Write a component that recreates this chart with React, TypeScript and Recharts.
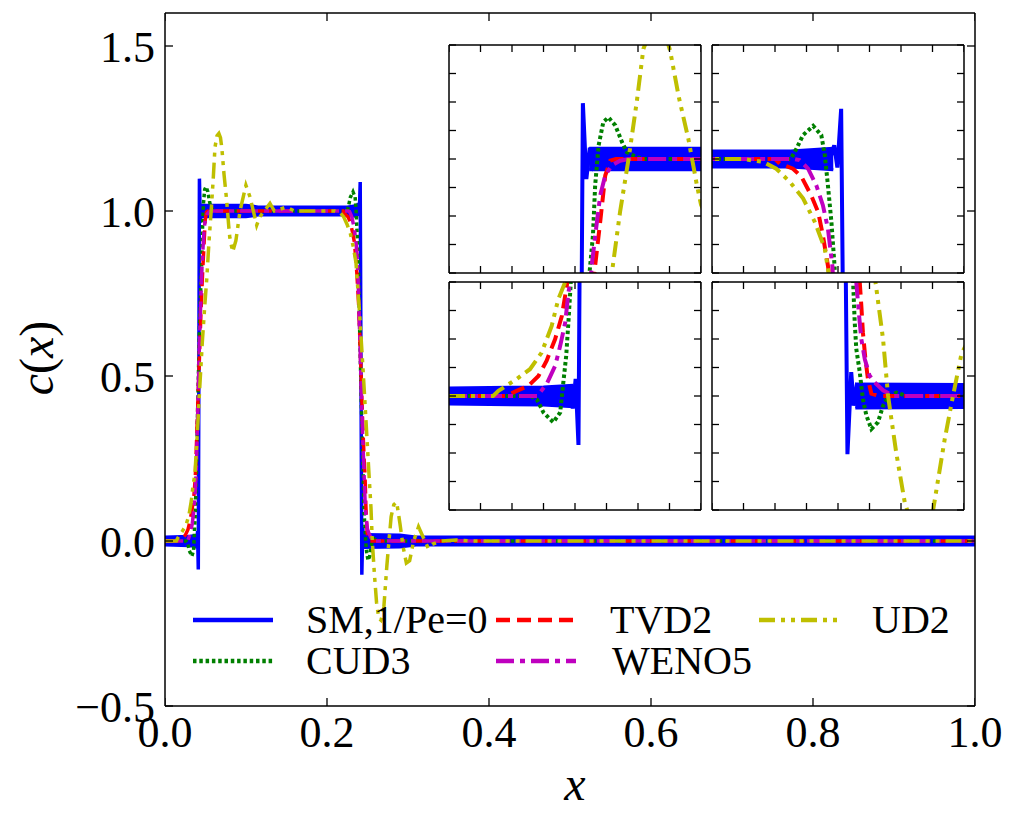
import React from 'react';
import { ComposedChart, Line, Area, Scatter, XAxis, YAxis } from 'recharts';

type Pt = [number, number];
type Band = [number, number, number];

const FONT = "'Liberation Serif', 'Times New Roman', serif";

const mainXTicks = [0, 0.2, 0.4, 0.6, 0.8, 1.0];
const mainYTicks = [-0.5, 0, 0.5, 1.0, 1.5];

const insetLeftXTicks = [0, 0.01, 0.02, 0.03, 0.04, 0.05, 0.06, 0.07, 0.08];
const insetRightXTicks = [0.2, 0.21, 0.22, 0.23, 0.24, 0.25, 0.26, 0.27, 0.28];
const insetTopYTicks = [0.8, 0.85, 0.9, 0.95, 1.0, 1.05, 1.1, 1.15, 1.2];
const insetBottomYTicks = [-0.2, -0.15, -0.1, -0.05, 0, 0.05, 0.1, 0.15, 0.2];

// SM, 1/Pe=0 : centre line with the spikes at the two jumps
const smLine: Pt[] = [
  [0, 0], [0.036, 0], [0.0383, 0.012], [0.0393, -0.022], [0.0402, 0.03], [0.0411, -0.086],
  [0.0425, 1.098], [0.0436, 0.965], [0.0447, 1.02], [0.0458, 0.988], [0.047, 1.0],
  [0.2375, 1.0], [0.2388, 1.024], [0.2398, 0.985], [0.241, 1.088], [0.243, -0.102],
  [0.2442, 0.042], [0.245, -0.017], [0.2458, 0.013], [0.247, 0], [1, 0],
];

// SM grid-scale oscillation envelope (low, high)
const smBandLeft: Band[] = [
  [0, -0.014, 0.014], [0.03, -0.016, 0.016], [0.0395, -0.019, 0.019],
];
const smBandTop: Band[] = [
  [0.0445, 0.981, 1.019], [0.1, 0.981, 1.019], [0.115, 0.986, 1.014],
  [0.225, 0.986, 1.014], [0.2385, 0.981, 1.019],
];
const smBandRight: Band[] = [
  [0.2455, -0.021, 0.021], [0.29, -0.02, 0.02], [0.31, -0.014, 0.014], [1, -0.014, 0.014],
];

const cud3: Pt[] = [
  [0, 0], [0.026, 0], [0.0279, -0.006], [0.03, -0.029], [0.0331, -0.046], [0.0353, -0.029],
  [0.0363, 0.024], [0.0372, 0.07], [0.0379, 0.129], [0.0386, 0.193], [0.0405, 0.42],
  [0.0425, 0.64], [0.0446, 0.8], [0.0457, 0.866], [0.0464, 0.954], [0.0475, 1.024],
  [0.049, 1.065], [0.0506, 1.073], [0.0528, 1.059], [0.0549, 1.03], [0.0565, 1.012],
  [0.0596, 1.003], [0.062, 1.0], [0.225, 1.0], [0.2268, 1.018], [0.2289, 1.042],
  [0.2321, 1.058], [0.2347, 1.042], [0.2358, 1.007], [0.2368, 0.954], [0.2379, 0.89],
  [0.2389, 0.813], [0.2405, 0.62], [0.2428, 0.38], [0.2448, 0.2], [0.2453, 0.13],
  [0.2458, 0.083], [0.2469, 0.042], [0.2479, -0.005], [0.249, -0.034], [0.2506, -0.058],
  [0.2527, -0.046], [0.2543, -0.017], [0.2559, -0.002], [0.2585, 0.006], [0.262, 0], [1, 0],
];

const tvd2: Pt[] = [
  [0, 0], [0.018, 0], [0.0215, 0.009], [0.0252, 0.018], [0.0284, 0.035], [0.031, 0.062],
  [0.0337, 0.1], [0.0358, 0.14], [0.0374, 0.193], [0.0395, 0.34], [0.042, 0.52],
  [0.0445, 0.7], [0.0464, 0.813], [0.048, 0.89], [0.0496, 0.971], [0.0512, 0.997],
  [0.053, 1.0], [0.22, 1.0], [0.2215, 0.992], [0.2257, 0.983], [0.2284, 0.969],
  [0.2315, 0.936], [0.2337, 0.907], [0.2352, 0.866], [0.2368, 0.813], [0.239, 0.72],
  [0.2415, 0.55], [0.244, 0.36], [0.2458, 0.25], [0.2469, 0.2], [0.2474, 0.159],
  [0.2479, 0.112], [0.2487, 0.065], [0.2495, 0.03], [0.2506, 0.004], [0.2532, 0], [1, 0],
];

const weno5: Pt[] = [
  [0, 0], [0.028, 0], [0.031, 0.021], [0.0337, 0.053], [0.0353, 0.088], [0.0369, 0.129],
  [0.0379, 0.181], [0.0385, 0.2], [0.0405, 0.4], [0.0425, 0.6], [0.0453, 0.813],
  [0.0467, 0.878], [0.048, 0.936], [0.0496, 0.971], [0.0517, 0.989], [0.0543, 0.997],
  [0.057, 1.0], [0.226, 1.0], [0.2278, 0.998], [0.2305, 0.983], [0.2331, 0.954],
  [0.2352, 0.919], [0.2368, 0.878], [0.2382, 0.813], [0.24, 0.66], [0.242, 0.48],
  [0.244, 0.32], [0.2458, 0.2], [0.2467, 0.141], [0.2474, 0.1], [0.2485, 0.065],
  [0.25, 0.036], [0.2516, 0.024], [0.2543, 0.01], [0.2575, 0], [1, 0],
];

const ud2: Pt[] = [
  [0, 0], [0.014, 0], [0.0157, 0.009], [0.0215, 0.03], [0.0257, 0.047], [0.0294, 0.076],
  [0.0326, 0.123], [0.0347, 0.17], [0.0369, 0.2], [0.04, 0.33], [0.043, 0.47], [0.046, 0.6],
  [0.049, 0.71], [0.0517, 0.8], [0.0543, 0.907], [0.057, 1.0], [0.0596, 1.1], [0.0617, 1.193],
  [0.0642, 1.228], [0.0665, 1.235], [0.0685, 1.222], [0.0702, 1.19], [0.0729, 1.11],
  [0.076, 1.035], [0.0787, 0.954], [0.08, 0.92], [0.0835, 0.876], [0.0875, 0.91],
  [0.0926, 1.0], [0.0999, 1.078], [0.105, 1.042], [0.1132, 0.957], [0.117, 0.982],
  [0.1296, 1.023], [0.135, 1.0], [0.15, 1.012], [0.16, 1.0], [0.2098, 1.0], [0.2162, 0.995],
  [0.2204, 0.983], [0.2247, 0.96], [0.2289, 0.931], [0.2326, 0.89], [0.2358, 0.843],
  [0.237, 0.8], [0.2405, 0.68], [0.2445, 0.52], [0.248, 0.37], [0.2519, 0.2], [0.2543, 0.1],
  [0.2559, 0.0], [0.2585, -0.1], [0.2612, -0.187], [0.264, -0.235], [0.2665, -0.24],
  [0.2685, -0.225], [0.2702, -0.2], [0.2739, -0.075], [0.2765, 0.0], [0.2792, 0.074],
  [0.2825, 0.11], [0.286, 0.118], [0.29, 0.054], [0.294, -0.018], [0.298, -0.067],
  [0.302, -0.06], [0.307, 0.0], [0.313, 0.043], [0.319, 0.01], [0.325, -0.022],
  [0.33, -0.01], [0.34, 0.0], [0.36, 0.003], [0.38, 0], [1, 0],
];

const SM_COLOR = '#0000ff';

const series = [
  { key: 'cud3', label: 'CUD3', pts: cud3, color: '#008000', dash: '3.5 2.8' },
  { key: 'tvd2', label: 'TVD2', pts: tvd2, color: '#ff0000', dash: '14 7' },
  { key: 'weno5', label: 'WENO5', pts: weno5, color: '#bf00bf', dash: '18 6 5 6' },
  { key: 'ud2', label: 'UD2', pts: ud2, color: '#bfbf00', dash: '16 6 4 6 4 6' },
];

const toRows = (pts: Pt[]) => pts.map(([x, y]) => ({ x, y }));
const toBand = (pts: Band[]) => pts.map(([x, lo, hi]) => ({ x, band: [lo, hi] }));

const fmt = (v: number) => (v < 0 ? '\u2212' + Math.abs(v).toFixed(1) : v.toFixed(1));

function renderSeries(lw: number, bandStroke: number) {
  const bands = [smBandLeft, smBandTop, smBandRight].map((b, i) => (
    <Area
      key={'band' + i}
      data={toBand(b)}
      dataKey="band"
      type="linear"
      stroke={SM_COLOR}
      strokeWidth={bandStroke}
      fill={SM_COLOR}
      fillOpacity={1}
      dot={false}
      activeDot={false}
      isAnimationActive={false}
    />
  ));
  const sm = (
    <Line
      key="sm"
      data={toRows(smLine)}
      dataKey="y"
      type="linear"
      stroke={SM_COLOR}
      strokeWidth={lw}
      dot={false}
      activeDot={false}
      isAnimationActive={false}
    />
  );
  const others = series.map((s) => (
    <Line
      key={s.key}
      data={toRows(s.pts)}
      dataKey="y"
      type="linear"
      stroke={s.color}
      strokeWidth={lw}
      strokeDasharray={s.dash}
      dot={false}
      activeDot={false}
      isAnimationActive={false}
    />
  ));
  return [...bands, sm, ...others];
}

const frame = { stroke: '#000', strokeWidth: 1.5 };
const tickLn = { stroke: '#000', strokeWidth: 1.3 };
const NoLabel = () => <g />;

// short vertical tick mark pointing into the frame (dir: -1 up, +1 down)
const xTickShape = (len: number) => (props: any) => {
  const { cx, cy, payload } = props;
  return <line x1={cx} x2={cx} y1={cy} y2={cy + payload.dir * len} stroke="#000" strokeWidth={1.3} />;
};

// frame with inward ticks on all four sides
function frameAxes(xd: number[], yd: number[], xTicks: number[], yTicks: number[], len: number) {
  const common = { type: 'number' as const, tick: NoLabel, interval: 0, mirror: true, tickSize: len,
    axisLine: frame, allowDataOverflow: true };
  const xTickRows = [
    ...xTicks.map((x) => ({ x, y: yd[0], dir: -1 })),
    ...xTicks.map((x) => ({ x, y: yd[1], dir: 1 })),
  ];
  return [
    <XAxis key="fb" xAxisId="fb" orientation="bottom" domain={xd} ticks={xTicks} tickLine={false} {...common} />,
    <XAxis key="ft" xAxisId="ft" orientation="top" domain={xd} ticks={xTicks} tickLine={false} {...common} />,
    <YAxis key="fl" yAxisId="fl" orientation="left" domain={yd} ticks={yTicks} tickLine={tickLn} {...common} />,
    <YAxis key="fr" yAxisId="fr" orientation="right" domain={yd} ticks={yTicks} tickLine={tickLn} {...common} />,
    <Scatter key="xt" data={xTickRows} dataKey="y" shape={xTickShape(len)} isAnimationActive={false} />,
  ];
}

interface InsetProps {
  left: number;
  top: number;
  xTicks: number[];
  yTicks: number[];
}

// inset plot area is 252 x 228
const Inset: React.FC<InsetProps> = ({ left, top, xTicks, yTicks }) => {
  const xd = [xTicks[0], xTicks[xTicks.length - 1]];
  const yd = [yTicks[0], yTicks[yTicks.length - 1]];
  return (
    <div style={{ position: 'absolute', left: left - 2, top: top - 2, background: '#fff' }}>
      <ComposedChart width={256} height={232} margin={{ top: 2, right: 2, bottom: 2, left: 2 }}>
        <XAxis dataKey="x" type="number" domain={xd} hide allowDataOverflow />
        <YAxis type="number" domain={yd} hide allowDataOverflow />
        {renderSeries(4, 3)}
        {frameAxes(xd, yd, xTicks, yTicks, 7)}
      </ComposedChart>
    </div>
  );
};

const LegendKey: React.FC<{ x: number; y: number; color: string; dash?: string; label: string; tx: number }> = ({
  x, y, color, dash, label, tx,
}) => (
  <g>
    <line x1={x} x2={x + 80} y1={y} y2={y} stroke={color} strokeWidth={4.5} strokeDasharray={dash} />
    <text x={tx} y={y + 13} fontSize={40} fontFamily={FONT} fill="#000">{label}</text>
  </g>
);

export default function App() {
  const tickStyle = { fill: '#000', fontSize: 44, fontFamily: FONT };
  return (
    <div style={{ position: 'relative', width: 1000, height: 810, background: '#fff' }}>
      <ComposedChart width={1000} height={810} margin={{ top: 5, right: 33, bottom: 52, left: 57 }}>
        <XAxis dataKey="x" type="number" domain={[0, 1]} ticks={mainXTicks} interval={0}
          tickFormatter={fmt} tick={tickStyle} height={60} tickSize={0} tickMargin={10}
          axisLine={false} tickLine={false} allowDataOverflow />
        <YAxis type="number" domain={[-0.5, 1.6]} ticks={mainYTicks} interval={0}
          tickFormatter={fmt} tick={tickStyle} width={100} tickSize={0} tickMargin={10}
          axisLine={false} tickLine={false} allowDataOverflow />
        {renderSeries(3.5, 2)}
        {frameAxes([0, 1], [-0.5, 1.6], mainXTicks, mainYTicks, 8)}
      </ComposedChart>

      <Inset left={441} top={36.5} xTicks={insetLeftXTicks} yTicks={insetTopYTicks} />
      <Inset left={704} top={37} xTicks={insetRightXTicks} yTicks={insetTopYTicks} />
      <Inset left={441} top={273.5} xTicks={insetLeftXTicks} yTicks={insetBottomYTicks} />
      <Inset left={704} top={274} xTicks={insetRightXTicks} yTicks={insetBottomYTicks} />

      <svg width={1000} height={810} style={{ position: 'absolute', left: 0, top: 0, pointerEvents: 'none' }}>
        <LegendKey x={185} y={612} color={SM_COLOR} label="SM,1/Pe=0" tx={298} />
        <LegendKey x={488} y={612} color={series[1].color} dash={series[1].dash} label={series[1].label} tx={602} />
        <LegendKey x={751} y={612} color={series[3].color} dash={series[3].dash} label={series[3].label} tx={864} />
        <LegendKey x={185} y={653} color={series[0].color} dash={series[0].dash} label={series[0].label} tx={298} />
        <LegendKey x={488} y={653} color={series[2].color} dash={series[2].dash} label={series[2].label} tx={604} />
        <text x={567} y={792} textAnchor="middle" fontSize={48} fontFamily={FONT} fontStyle="italic">x</text>
        <text transform="translate(45,350) rotate(-90)" textAnchor="middle" fontSize={48} fontFamily={FONT}>
          <tspan fontStyle="italic">c</tspan>(<tspan fontStyle="italic">x</tspan>)
        </text>
      </svg>
    </div>
  );
}
